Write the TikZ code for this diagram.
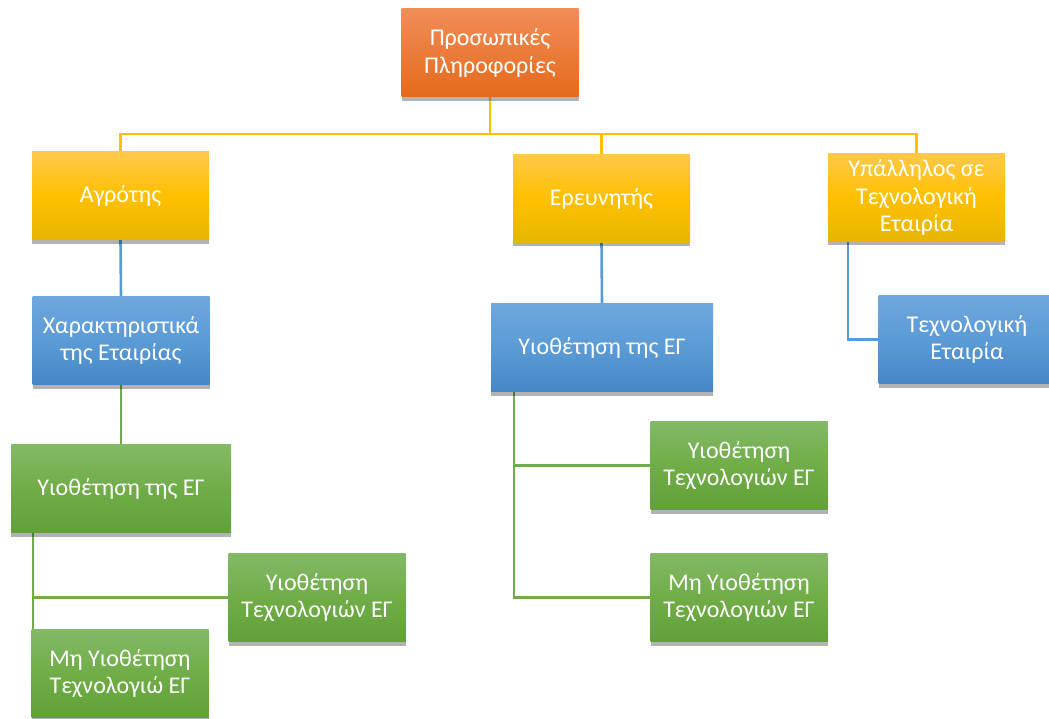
\documentclass[tikz,border=0pt]{standalone}
\usepackage{fontspec}
\setmainfont{Carlito}
\usetikzlibrary{shadows,backgrounds}

\definecolor{orgtop}{HTML}{F18D57}
\definecolor{orgbot}{HTML}{E46A1C}
\definecolor{ylwtop}{HTML}{FFC84A}
\definecolor{ylwmid}{HTML}{FFC000}
\definecolor{ylwbot}{HTML}{E6B600}
\definecolor{blutop}{HTML}{6EA7DE}
\definecolor{blumid}{HTML}{5B9BD5}
\definecolor{blubot}{HTML}{4586C8}
\definecolor{grntop}{HTML}{83B967}
\definecolor{grnmid}{HTML}{70AD47}
\definecolor{grnbot}{HTML}{61A139}

\begin{document}
\begin{tikzpicture}[x=1pt, y=-1pt,
  box/.style={minimum width=177pt, minimum height=88pt, inner sep=2pt,
    align=center, text=white, font=\fontsize{24}{27.5}\selectfont,
    drop shadow={shadow xshift=0pt, shadow yshift=-4pt, opacity=0.3, fill=black}},
  orangebox/.style={box, top color=orgtop, bottom color=orgbot},
  yellowbox/.style={box, top color=ylwtop, bottom color=ylwbot, middle color=ylwmid},
  bluebox/.style={box, top color=blutop, bottom color=blubot, middle color=blumid},
  greenbox/.style={box, top color=grntop, bottom color=grnbot, middle color=grnmid},
  yline/.style={draw=ylwmid, line width=2.6pt},
  bline/.style={draw=blumid, line width=2.6pt},
  gline/.style={draw=grnmid, line width=2.6pt}]
  \useasboundingbox (0,0) rectangle (1049,719);
  \clip (0,0) rectangle (1049,719);
  \node(info)[orangebox] at (490,53) {Προσωπικές\\Πληροφορίες};
  \node(farmer)[yellowbox] at (120.5,196) {Αγρότης};
  \node(researcher)[yellowbox] at (601.5,198.5) {Ερευνητής};
  \node(employee)[yellowbox] at (916.5,197.5) {Υπάλληλος σε\\Τεχνολογική\\Εταιρία};
  \node(features)[bluebox] at (121,340.5) {Χαρακτηριστικά\\της Εταιρίας};
  \node(adoptb)[bluebox, minimum width=222pt] at (602,347.5) {Υιοθέτηση της ΕΓ};
  \node(techco)[bluebox] at (967,339.5) {Τεχνολογική\\Εταιρία};
  \node(adoptg)[greenbox, minimum width=220pt] at (121,488.5) {Υιοθέτηση της ΕΓ};
  \node(yesl)[greenbox] at (317,597.5) {Υιοθέτηση\\Τεχνολογιών ΕΓ};
  \node(nol)[greenbox] at (120,673.5) {Μη Υιοθέτηση\\Τεχνολογιώ ΕΓ};
  \node(yesr)[greenbox] at (739,465.5) {Υιοθέτηση\\Τεχνολογιών ΕΓ};
  \node(nor)[greenbox] at (739,597.5) {Μη Υιοθέτηση\\Τεχνολογιών ΕΓ};
  \begin{scope}[on background layer]
    \coordinate (bus) at (490,134);
    \draw[yline] (info.south) -- (bus) -| (farmer.north);
    \draw[yline] (bus) -| (researcher.north);
    \draw[yline] (bus) -| (employee.north);
    \draw[bline] (farmer.south) -- (features.north);
    \draw[bline] (researcher.south) -- (adoptb.north);
    \draw[bline] ([xshift=20pt]employee.south west) |- (techco.west);
    \draw[gline] (features.south) -- (adoptg.north);
    \draw[gline] ([xshift=22pt]adoptg.south west) |- (yesl.west);
    \draw[gline] ([xshift=22pt]adoptg.south west) |- (nol.west);
    \draw[gline] ([xshift=23pt]adoptb.south west) |- (yesr.west);
    \draw[gline] ([xshift=23pt]adoptb.south west) |- (nor.west);
  \end{scope}
\end{tikzpicture}
\end{document}
